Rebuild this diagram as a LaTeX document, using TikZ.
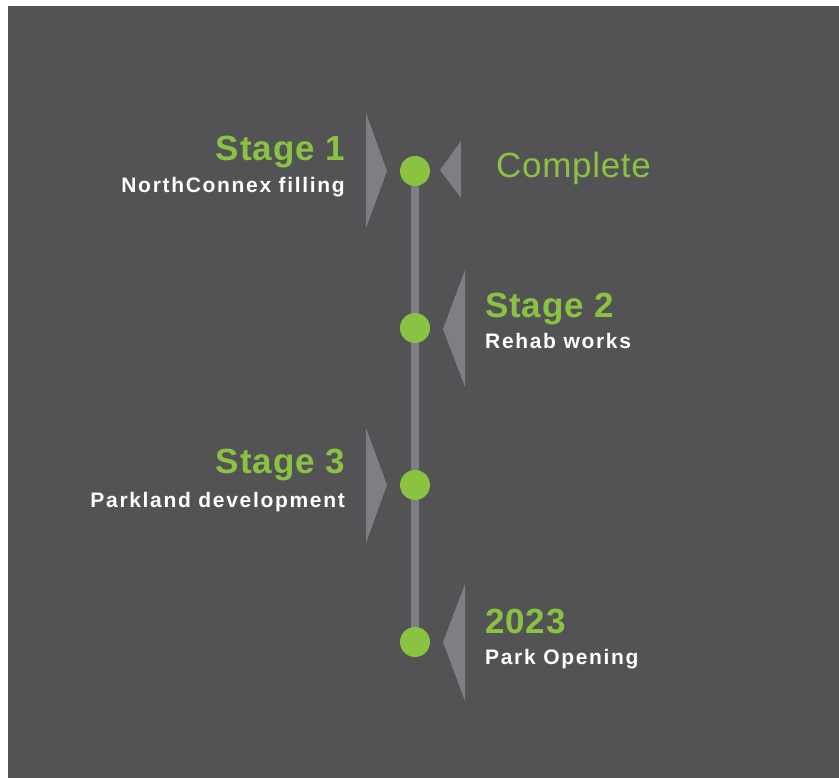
\documentclass[tikz,border=0pt]{standalone}
\usepackage{fontspec}
\setmainfont{Liberation Sans}
\usetikzlibrary{positioning}
\definecolor{slate}{HTML}{535355}
\definecolor{leaf}{HTML}{8AC241}
\definecolor{steel}{HTML}{7E7F83}

\begin{document}
\begin{tikzpicture}[x=1pt,y=-1pt,
  dot/.style={circle,fill=leaf,minimum size=30pt,inner sep=0pt},
  head/.style={text=leaf,font=\bfseries\fontsize{35}{35}\selectfont\addfontfeature{LetterSpace=2.5},inner sep=0pt},
  sub/.style={text=white,font=\bfseries\fontsize{21}{21}\selectfont\addfontfeature{LetterSpace=8},inner sep=0pt},
  flag/.style={fill=steel},
  rail/.style={draw=steel,line width=8pt}]
  \useasboundingbox (0,0) rectangle (839,778);
  \fill[white] (0,0) rectangle (839,778);
  \fill[slate] (8,6) rectangle (839,778);

  % timeline
  \coordinate (p1) at (415,171);
  \coordinate (p2) at (415,328);
  \coordinate (p3) at (415,485);
  \coordinate (p4) at (415,642);
  \draw[rail](p1)--(p4);
  \node[dot] (d1) at (p1) {};
  \node[dot] (d2) at (p2) {};
  \node[dot] (d3) at (p3) {};
  \node[dot] (d4) at (p4) {};

  % pointers
  \fill[flag] (366,113) -- (387,171) -- (366,228) -- cycle;
  \fill[flag] (461,141) -- (440,170) -- (461,198) -- cycle;
  \fill[flag] (465,270) -- (443,329) -- (465,387) -- cycle;
  \fill[flag] (366,428) -- (387,485) -- (366,543) -- cycle;
  \fill[flag] (465,584) -- (443,642) -- (465,701) -- cycle;

  \node[head,anchor=base east] (s1) at (345,161) {Stage 1};
  \node[sub,anchor=base east] (n1) at (345,193) {NorthConnex filling};
  \node[head,anchor=base west,font=\fontsize{35}{35}\selectfont\addfontfeature{LetterSpace=2}] (c1) at (496,178) {Complete};
  \node[head,anchor=base west] (s2) at (485,318) {Stage 2};
  \node[sub,anchor=base west] (n2) at (485,349) {Rehab works};
  \node[head,anchor=base east] (s3) at (345,473) {Stage 3};
  \node[sub,anchor=base east] (n3) at (345,507) {Parkland development};
  \node[head,anchor=base west] (s4) at (485,633) {2023};
  \node[sub,anchor=base west] (n4) at (485,664) {Park Opening};
\end{tikzpicture}
\end{document}
